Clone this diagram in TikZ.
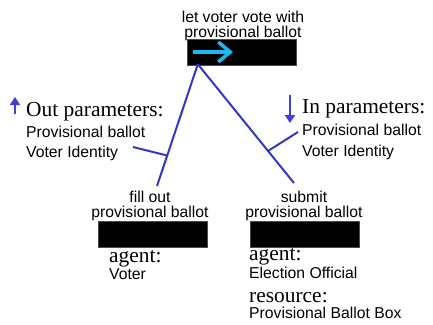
\documentclass[tikz,border=0pt]{standalone}
\usepackage{fontspec}
\setmainfont{Liberation Serif}
\setsansfont{Liberation Sans}
\usetikzlibrary{arrows.meta,calc}
\definecolor{linkblue}{HTML}{3535C8}
\definecolor{tipblue}{HTML}{4040DC}
\definecolor{flowcyan}{HTML}{1EB8F0}
\begin{document}
\begin{tikzpicture}[x=1bp,y=-1bp,
  actbox/.style={fill=black,draw=black!70,line width=0.4bp,minimum width=109bp,minimum height=26bp,inner sep=0pt},
  actlabel/.style={font=\sffamily\fontsize{15.8}{14.5}\selectfont,align=center,inner sep=0pt,anchor=south},
  serifhead/.style={font=\rmfamily\fontsize{21.5}{22}\selectfont,inner sep=0pt,anchor=base west},
  plain/.style={font=\sffamily\fontsize{15.8}{18}\selectfont,inner sep=0pt,anchor=base west},
  link/.style={draw=linkblue,line width=2bp},
  dirarrow/.style={draw=tipblue,fill=tipblue,line width=2bp,-{Triangle[length=8bp,width=10bp]}},
  flow/.style={draw=flowcyan,line width=3.5bp,-{Straight Barb[length=12bp,width=20bp]}}]
\useasboundingbox (0,0) rectangle (433,324);

% activities
\node[actbox] (act0) at (241.5,52) {};
\node[actbox] (act1) at (152.5,234) {};
\node[actbox] (act2) at (304.5,234) {};

\node[actlabel] (lbl0) at (243,40.5) {let voter vote with\\provisional ballot};
\node[actlabel] (lbl1) at (150,220.5) {fill out\\provisional ballot};
\node[actlabel] (lbl2) at (304,220.5) {submit\\provisional ballot};

% flow marker inside the parent activity
\coordinate (f0) at (193,52);
\coordinate (f1) at (233,52);
\draw[flow] (f0) -- (f1);

% decomposition links
\coordinate (apex) at ($(act0.south west)+(11,-1)$);
\coordinate (end1) at (157,186);
\coordinate (end2) at (294,183);
\draw[link] (apex) -- (end1);
\draw[link] (apex) -- (end2);

% parameter panels
\coordinate (upA) at (15,114);
\coordinate (upB) at (15,97);
\draw[dirarrow] (upA) -- (upB);
\node[serifhead] (outh) at (26,116) {Out parameters:};
\node[plain] (out1) at (26,137) {Provisional ballot};
\node[plain] (out2) at (26,157) {Voter Identity};

\coordinate (dnA) at (290,95);
\coordinate (dnB) at (290,123);
\draw[dirarrow] (dnA) -- (dnB);
\node[serifhead] (inh) at (302,113) {In parameters:};
\node[plain] (in1) at (302,135) {Provisional ballot};
\node[plain] (in2) at (302,156) {Voter Identity};

% panel leaders onto the links
\coordinate (j1) at ($(apex)!0.75!(end1)$);
\coordinate (j2) at ($(apex)!0.73!(end2)$);
\coordinate (p1) at (133,147);
\coordinate (p2) at (298,132);
\draw[link] (p1) -- (j1);
\draw[link] (p2) -- (j2);

% agents and resources
\node[serifhead] (ag1) at (109,262) {agent:};
\node[plain] (ag1v) at (109,279) {Voter};
\node[serifhead] (ag2) at (249,260) {agent:};
\node[plain] (ag2v) at (249,278) {Election Official};
\node[serifhead] (rs2) at (249,302) {resource:};
\node[plain] (rs2v) at (249,318) {Provisional Ballot Box};
\end{tikzpicture}
\end{document}
